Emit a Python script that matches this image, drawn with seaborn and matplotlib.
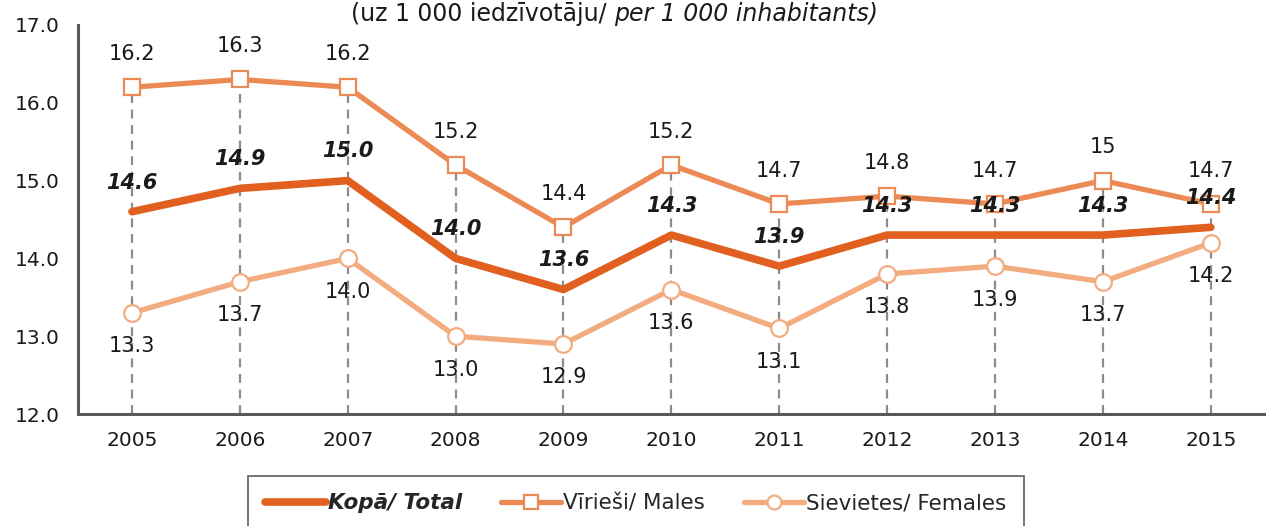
import pandas as pd
import matplotlib
matplotlib.use('Agg')
import matplotlib.pyplot as plt
import seaborn as sns
from matplotlib.lines import Line2D

years = ['2005', '2006', '2007', '2008', '2009', '2010', '2011', '2012', '2013', '2014', '2015']
total = [14.6, 14.9, 15.0, 14.0, 13.6, 14.3, 13.9, 14.3, 14.3, 14.3, 14.4]
males = [16.2, 16.3, 16.2, 15.2, 14.4, 15.2, 14.7, 14.8, 14.7, 15.0, 14.7]
females = [13.3, 13.7, 14.0, 13.0, 12.9, 13.6, 13.1, 13.8, 13.9, 13.7, 14.2]
male_labels = ['16.2', '16.3', '16.2', '15.2', '14.4', '15.2', '14.7', '14.8', '14.7', '15', '14.7']

c_total = '#E2601F'
c_males = '#EC8A55'
c_females = '#F2AC80'

sns.set_style('white')
plt.rcParams['font.family'] = ['DejaVu Sans']

df = pd.DataFrame({'x': range(len(years)), 'total': total, 'males': males, 'females': females})

fig = plt.figure(figsize=(12.66, 5.26), dpi=100)
ax = fig.add_axes([78 / 1266, 1 - 414 / 526, 1 - 78 / 1266 - 0.001, (414 - 25) / 526])

# dashed guides from the axis up to the highest point
ax.vlines(df['x'], 12.0, df[['total', 'males', 'females']].max(axis=1),
          colors='#8c8c8c', linestyles=(0, (4, 3)), linewidth=1.6, zorder=1)

sns.lineplot(data=df, x='x', y='females', ax=ax, color=c_females, linewidth=3.8,
             marker='o', markersize=12, markerfacecolor='white', markeredgecolor=c_females,
             markeredgewidth=1.6, zorder=3)
sns.lineplot(data=df, x='x', y='males', ax=ax, color=c_males, linewidth=3.8,
             marker='s', markersize=12, markerfacecolor='white', markeredgecolor=c_males,
             markeredgewidth=1.6, zorder=3)
sns.lineplot(data=df, x='x', y='total', ax=ax, color=c_total, linewidth=5.5, zorder=4)

for i in range(len(years)):
    ax.annotate(male_labels[i], (i, males[i]), xytext=(0, 24), textcoords='offset points',
                ha='center', va='center', fontsize=15, color='#1a1a1a', zorder=5)
    ax.annotate(f'{total[i]:.1f}', (i, total[i]), xytext=(0, 21), textcoords='offset points',
                ha='center', va='center', fontsize=15, fontweight='bold', fontstyle='italic',
                color='#1a1a1a', zorder=6)
    ax.annotate(f'{females[i]:.1f}', (i, females[i]), xytext=(0, -24), textcoords='offset points',
                ha='center', va='center', fontsize=15, color='#1a1a1a', zorder=5)

ax.set_xlim(-0.5, len(years) - 0.5)
ax.set_ylim(12.0, 17.0)
ax.set_yticks([12, 13, 14, 15, 16, 17])
ax.set_yticklabels([f'{v:.1f}' for v in [12, 13, 14, 15, 16, 17]], fontsize=14.5, color='#1a1a1a')
ax.set_xticks(range(len(years)))
ax.set_xticklabels(years, fontsize=14.5, color='#1a1a1a')
ax.set_xticks([i - 0.5 for i in range(len(years) + 1)], minor=True)
ax.tick_params(axis='x', which='major', length=0, pad=12)
ax.tick_params(axis='x', which='minor', length=8, width=2, color='#595959', direction='inout')
ax.tick_params(axis='y', which='major', length=10, width=2, color='#595959', direction='inout', pad=8)
ax.set_xlabel('')
ax.set_ylabel('')
for s in ['top', 'right']:
    ax.spines[s].set_visible(False)
for s in ['left', 'bottom']:
    ax.spines[s].set_color('#595959')
    ax.spines[s].set_linewidth(2.2)

fig.text(614 / 1266, 1 - 14 / 526, '(uz 1 000 iedzīvotāju/ ', ha='right', va='center',
         fontsize=17, color='#1a1a1a')
fig.text(614 / 1266, 1 - 14 / 526, 'per 1 000 inhabitants)', ha='left', va='center',
         fontsize=17, fontstyle='italic', color='#1a1a1a')

handles = [
    Line2D([], [], color=c_total, linewidth=5.5),
    Line2D([], [], color=c_males, linewidth=3.8, marker='s', markersize=10,
           markerfacecolor='white', markeredgecolor=c_males, markeredgewidth=1.6),
    Line2D([], [], color=c_females, linewidth=3.8, marker='o', markersize=10,
           markerfacecolor='white', markeredgecolor=c_females, markeredgewidth=1.6),
]
leg = fig.legend(handles, ['Kopā/ Total', 'Vīrieši/ Males', 'Sievietes/ Females'],
                 loc='upper center', bbox_to_anchor=(636 / 1266, 1 - 476 / 526), ncol=3,
                 fontsize=15.5, frameon=True, fancybox=False, handlelength=2.8,
                 handletextpad=0.1, columnspacing=1.8, borderpad=0.8, borderaxespad=0)
leg.get_frame().set_edgecolor('#333333')
leg.get_frame().set_linewidth(1.2)
leg.get_texts()[0].set_fontweight('bold')
leg.get_texts()[0].set_fontstyle('italic')

fig.savefig('out.png', dpi=100)
